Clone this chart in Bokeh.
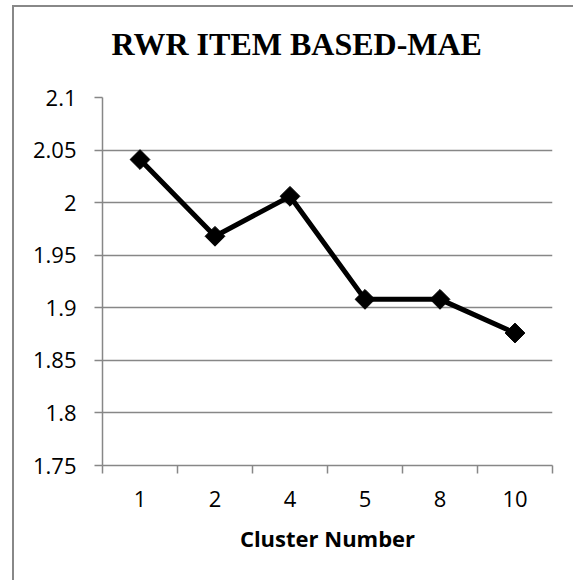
import numpy as np
from bokeh.plotting import figure
from bokeh.layouts import column
from bokeh.models import FixedTicker, Range1d, Title
from bokeh.embed import file_html
from bokeh.resources import INLINE

# ---- data ----
clusters = ["1", "2", "4", "5", "8", "10"]
mae = [2.041, 1.968, 2.006, 1.908, 1.908, 1.876]
y_ticks = [1.75, 1.80, 1.85, 1.90, 1.95, 2.00, 2.05, 2.10]
y_tick_labels = ["1.75", "1.8", "1.85", "1.9", "1.95", "2", "2.05", "2.1"]
title_text = "RWR ITEM BASED-MAE"
x_label = "Cluster Number"

xs = [i + 0.5 for i in range(len(clusters))]

GRAY = "#878787"
# canvas origin sits 14px right / 7px below the page content origin (margin + 2px border)
p = figure(width=559, height=573, output_backend="svg", toolbar_location=None,
           x_range=Range1d(0, len(clusters)), y_range=Range1d(y_ticks[0], y_ticks[-1]),
           min_border_left=88, min_border_right=21, min_border_bottom=115, min_border_top=90)

p.title = Title(text=title_text, align="left", offset=9, vertical_align="bottom",
                text_font="Liberation Serif", text_font_size="32px",
                text_font_style="bold", text_color="black", standoff=0)
# invisible spacer between the title and the plot area
p.add_layout(Title(text=" ", text_font_size="1px", standoff=33), "above")

p.outline_line_color = None
p.background_fill_color = "white"
p.border_fill_color = "white"

# x axis
p.xaxis.ticker = FixedTicker(ticks=xs, minor_ticks=list(range(len(clusters) + 1)))
p.xaxis.major_label_overrides = {x: c for x, c in zip(xs, clusters)}
p.xaxis.major_tick_line_color = None
p.xaxis.minor_tick_line_color = GRAY
p.xaxis.minor_tick_line_width = 1.5
p.xaxis.minor_tick_out = 8
p.xaxis.minor_tick_in = 0
p.xaxis.axis_line_color = GRAY
p.xaxis.axis_line_width = 1.5
p.xaxis.major_label_text_font = "Open Sans"
p.xaxis.major_label_text_font_size = "22px"
p.xaxis.major_label_text_color = "black"
p.xaxis.major_label_standoff = 17
p.xaxis.axis_label = x_label
p.xaxis.axis_label_text_font = "Open Sans"
p.xaxis.axis_label_text_font_size = "22px"
p.xaxis.axis_label_text_font_style = "bold"
p.xaxis.axis_label_text_color = "black"
p.xaxis.axis_label_standoff = 13

# y axis
p.yaxis.ticker = FixedTicker(ticks=y_ticks)
p.yaxis.major_label_overrides = {t: l for t, l in zip(y_ticks, y_tick_labels)}
p.yaxis.major_tick_line_color = GRAY
p.yaxis.major_tick_line_width = 1.5
p.yaxis.major_tick_out = 8
p.yaxis.major_tick_in = 0
p.yaxis.minor_tick_line_color = None
p.yaxis.axis_line_color = GRAY
p.yaxis.axis_line_width = 1.5
p.yaxis.major_label_text_font = "Open Sans"
p.yaxis.major_label_text_font_size = "22px"
p.yaxis.major_label_text_color = "black"
p.yaxis.major_label_standoff = 18

p.xgrid.grid_line_color = None
p.ygrid.ticker = FixedTicker(ticks=y_ticks)
p.ygrid.grid_line_color = GRAY
p.ygrid.grid_line_width = 1.5

p.line(xs, mae, line_color="black", line_width=5)
p.scatter(xs, mae, marker="square", angle=np.pi / 4, size=14,
          fill_color="black", line_color="black")

# chart-area border (cropped on the right and bottom in the original)
inner = column(p, width=561, height=575, margin=(5, 0, 0, 12),
               styles={"border-left": "2px solid #888888",
                       "border-top": "2px solid #888888"})

layout = column(inner, width=573, height=580)

open("out.html", "w").write(file_html(layout, INLINE))
